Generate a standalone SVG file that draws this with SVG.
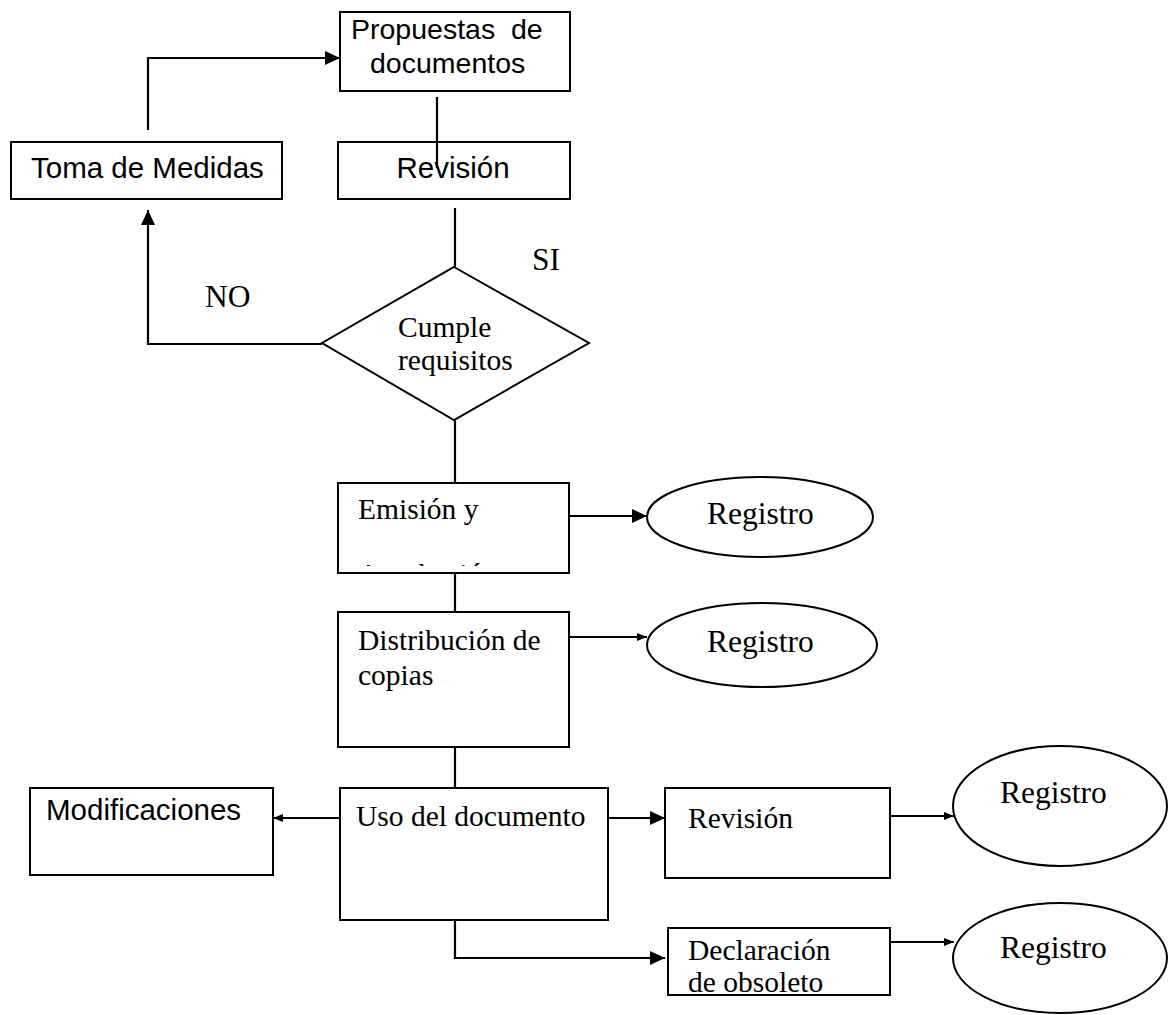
<svg xmlns="http://www.w3.org/2000/svg" width="1173" height="1015" viewBox="0 0 1173 1015">
  <style>
    .box { fill: #ffffff; stroke: #000000; stroke-width: 2; }
    .wire { fill: none; stroke: #000000; stroke-width: 2.2; }
    .sans { font-family: "Liberation Sans", Arial, sans-serif; font-size: 29.5px; fill: #000000; }
    .serif { font-family: "Liberation Serif", "Times New Roman", serif; font-size: 29.5px; fill: #000000; }
    .big { font-size: 31.5px; }
    .pre { white-space: pre; }
  </style>
  <defs>
    <marker id="headL" markerUnits="userSpaceOnUse" markerWidth="16" markerHeight="16" refX="15" refY="8" orient="auto">
      <path d="M0,1 L15,8 L0,15 Z" fill="#000000"/>
    </marker>
    <marker id="headS" markerUnits="userSpaceOnUse" markerWidth="11" markerHeight="11" refX="10" refY="5" orient="auto">
      <path d="M0,1 L10,5 L0,9 Z" fill="#000000"/>
    </marker>
    <clipPath id="cutLine">
      <rect x="340" y="559" width="228" height="7"/>
    </clipPath>
  </defs>

  <rect width="1173" height="1015" fill="#ffffff"/>

  <!-- connectors -->
  <g id="connectors">
    <path class="wire" d="M148,130 V58 H340" marker-end="url(#headL)"/>
    <path class="wire" d="M437,97 V168"/>
    <path class="wire" d="M455,208 V267"/>
    <path class="wire" d="M322,344 H148 V210" marker-end="url(#headL)"/>
    <path class="wire" d="M455,420 V483"/>
    <path class="wire" d="M569,516 H647" marker-end="url(#headL)"/>
    <path class="wire" d="M455,573 V612"/>
    <path class="wire" d="M569,637 H647" marker-end="url(#headS)"/>
    <path class="wire" d="M455,747 V788"/>
    <path class="wire" d="M340,818 H273" marker-end="url(#headS)"/>
    <path class="wire" d="M608,818 H665" marker-end="url(#headL)"/>
    <path class="wire" d="M890,816 H954" marker-end="url(#headS)"/>
    <path class="wire" d="M455,920 V958 H665" marker-end="url(#headL)"/>
    <path class="wire" d="M890,942 H954" marker-end="url(#headS)"/>
  </g>

  <g id="propuestas">
    <rect class="box" x="340" y="12" width="230" height="79"/>
    <text class="sans pre" x="351" y="39" style="font-size:28.5px">Propuestas  de</text>
    <text class="sans" x="370" y="73" style="font-size:28.5px">documentos</text>
  </g>

  <g id="toma-medidas">
    <rect class="box" x="11" y="142" width="271" height="57"/>
    <text class="sans" x="31" y="178">Toma de Medidas</text>
  </g>

  <g id="revision">
    <rect class="box" x="338" y="142" width="232" height="57"/>
    <text class="sans" x="453" y="178" text-anchor="middle">Revisión</text>
  </g>
  <!-- the link from the upper box runs a little into this one -->
  <path class="wire" d="M437,142 V168"/>

  <g id="cumple">
    <polygon class="box" points="454,267 589,343 454,420 322,343"/>
    <text class="serif" x="398" y="337">Cumple</text>
    <text class="serif" x="398" y="370">requisitos</text>
  </g>

  <text class="serif big" x="532" y="270">SI</text>
  <text class="serif big" x="205" y="307">NO</text>

  <g id="emision">
    <rect class="box" x="338" y="483" width="231" height="90"/>
    <text class="serif" x="358" y="519">Emisión y</text>
    <text class="serif" x="358" y="584" clip-path="url(#cutLine)">Aprobación</text>
  </g>

  <g id="registro-1">
    <ellipse class="box" cx="760" cy="517" rx="113" ry="40"/>
    <text class="serif big" x="707" y="524">Registro</text>
  </g>

  <g id="distribucion">
    <rect class="box" x="338" y="612" width="231" height="135"/>
    <text class="serif" x="358" y="650">Distribución de</text>
    <text class="serif" x="358" y="685">copias</text>
  </g>

  <g id="registro-2">
    <ellipse class="box" cx="762" cy="645" rx="115" ry="42"/>
    <text class="serif big" x="707" y="652">Registro</text>
  </g>

  <g id="uso">
    <rect class="box" x="340" y="788" width="268" height="132"/>
    <text class="serif" x="356" y="826">Uso del documento</text>
  </g>

  <g id="modificaciones">
    <rect class="box" x="30" y="788" width="243" height="87"/>
    <text class="sans" x="46" y="820">Modificaciones</text>
  </g>

  <g id="revision-2">
    <rect class="box" x="665" y="788" width="225" height="90"/>
    <text class="serif" x="688" y="828">Revisión</text>
  </g>

  <g id="registro-3">
    <ellipse class="box" cx="1060" cy="806" rx="107" ry="60"/>
    <text class="serif big" x="1000" y="803">Registro</text>
  </g>

  <g id="declaracion">
    <rect class="box" x="668" y="928" width="222" height="67"/>
    <text class="serif" x="688" y="960">Declaración</text>
    <text class="serif" x="688" y="992">de obsoleto</text>
  </g>

  <g id="registro-4">
    <ellipse class="box" cx="1060" cy="958" rx="107" ry="55"/>
    <text class="serif big" x="1000" y="958">Registro</text>
  </g>
</svg>
